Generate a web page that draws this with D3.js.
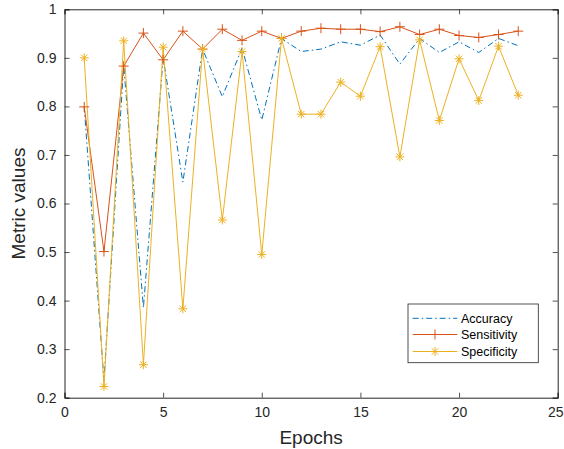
<!DOCTYPE html>
<html><head><meta charset="utf-8">
<script src="https://cdn.jsdelivr.net/npm/d3@7"></script>
<style>body{margin:0;background:#fff}svg{display:block}text{font-family:"Liberation Sans",Arial,sans-serif}</style>
</head><body>
<script>
const epochs = [1,2,3,4,5,6,7,8,9,10,11,12,13,14,15,16,17,18,19,20,21,22,23];
const accuracy = [0.80,0.235,0.885,0.385,0.90,0.644,0.918,0.82,0.92,0.772,0.94,0.913,0.918,0.933,0.926,0.947,0.887,0.94,0.911,0.933,0.911,0.94,0.925];
const sensitivity = [0.799,0.501,0.883,0.951,0.896,0.955,0.918,0.959,0.936,0.955,0.94,0.955,0.961,0.959,0.959,0.954,0.964,0.948,0.959,0.946,0.942,0.948,0.955];
const specificity = [0.90,0.223,0.935,0.268,0.922,0.383,0.918,0.566,0.913,0.495,0.94,0.784,0.784,0.85,0.821,0.923,0.696,0.937,0.771,0.898,0.812,0.924,0.823];
const xTicks = [0,5,10,15,20,25];
const yTicks = [0.2,0.3,0.4,0.5,0.6,0.7,0.8,0.9,1];
const seriesNames = ["Accuracy","Sensitivity","Specificity"];

const W=564,H=449;
const L=64.5,R=557.7,T=9.3,B=397.7;
const svg=d3.select("body").append("svg").attr("width",W).attr("height",H);
const x=d3.scaleLinear().domain([0,25]).range([L,R]);
const y=d3.scaleLinear().domain([0.2,1]).range([B,T]);
const axCol="#262626";
const colors=["#0072BD","#D95319","#EDB120"];

const gx=svg.append("g").attr("transform",`translate(0,${B})`)
  .call(d3.axisBottom(x).tickValues(xTicks).tickSize(-5).tickPadding(9).tickFormat(d3.format("d")));
const gxt=svg.append("g").attr("transform",`translate(0,${T})`)
  .call(d3.axisTop(x).tickValues(xTicks).tickSize(-5).tickFormat(""));
const gy=svg.append("g").attr("transform",`translate(${L},0)`)
  .call(d3.axisLeft(y).tickValues(yTicks).tickSize(-5).tickPadding(8).tickFormat(d=>d===1?"1":d3.format(".1f")(d)));
const gyr=svg.append("g").attr("transform",`translate(${R},0)`)
  .call(d3.axisRight(y).tickValues(yTicks).tickSize(-5).tickFormat(""));
[gx,gxt,gy,gyr].forEach(g=>{
  g.select(".domain").attr("stroke",axCol).attr("stroke-width",1);
  g.selectAll(".tick line").attr("stroke",axCol).attr("stroke-width",0.8);
  g.selectAll(".tick text").attr("fill",axCol).attr("font-size",14);
});
gx.selectAll(".tick text").filter(d=>d===25).attr("dx",-2.5);

svg.append("text").attr("x",(L+R)/2).attr("y",444).attr("text-anchor","middle")
  .attr("font-size",19).attr("fill",axCol).text("Epochs");
svg.append("text").attr("transform",`translate(25,${(T+B)/2}) rotate(-90)`).attr("text-anchor","middle")
  .attr("font-size",19).attr("fill",axCol).text("Metric values");

const line=d3.line().x((d,i)=>x(epochs[i])).y(d=>y(d));
svg.append("path").datum(accuracy).attr("d",line).attr("fill","none").attr("stroke",colors[0])
  .attr("stroke-width",1).attr("stroke-dasharray","6,3,1.5,3");
svg.append("path").datum(sensitivity).attr("d",line).attr("fill","none").attr("stroke",colors[1]).attr("stroke-width",1);
svg.append("path").datum(specificity).attr("d",line).attr("fill","none").attr("stroke",colors[2]).attr("stroke-width",1);

function plus(g,cx,cy,c){
  g.append("path").attr("d",`M${cx-5},${cy}H${cx+5}M${cx},${cy-5}V${cy+5}`).attr("stroke",c).attr("stroke-width",1).attr("fill","none");
}
function star(g,cx,cy,c){
  const r=4.5,d=r*0.707;
  g.append("path").attr("d",`M${cx-r},${cy}H${cx+r}M${cx},${cy-r}V${cy+r}M${cx-d},${cy-d}L${cx+d},${cy+d}M${cx-d},${cy+d}L${cx+d},${cy-d}`)
    .attr("stroke",c).attr("stroke-width",1).attr("fill","none");
}
const mg=svg.append("g");
sensitivity.forEach((v,i)=>plus(mg,x(epochs[i]),y(v),colors[1]));
specificity.forEach((v,i)=>star(mg,x(epochs[i]),y(v),colors[2]));

const lg=svg.append("g");
lg.append("rect").attr("x",408).attr("y",304).attr("width",130.3).attr("height",58.7)
  .attr("fill","#fff").attr("stroke",axCol).attr("stroke-width",0.8);
const rows=[318.3,334.5,351.5];
seriesNames.forEach((n,i)=>{
  const yy=rows[i];
  const ln=lg.append("line").attr("x1",412.7).attr("x2",457.3).attr("y1",yy).attr("y2",yy)
    .attr("stroke",colors[i]).attr("stroke-width",1);
  if(i===0) ln.attr("stroke-dasharray","6,3,1.5,3");
  if(i===1) plus(lg,435,yy,colors[1]);
  if(i===2) star(lg,435,yy,colors[2]);
  lg.append("text").attr("x",461).attr("y",yy+4.3).attr("font-size",12.5).attr("fill","#000").text(n);
});
</script>
</body></html>
